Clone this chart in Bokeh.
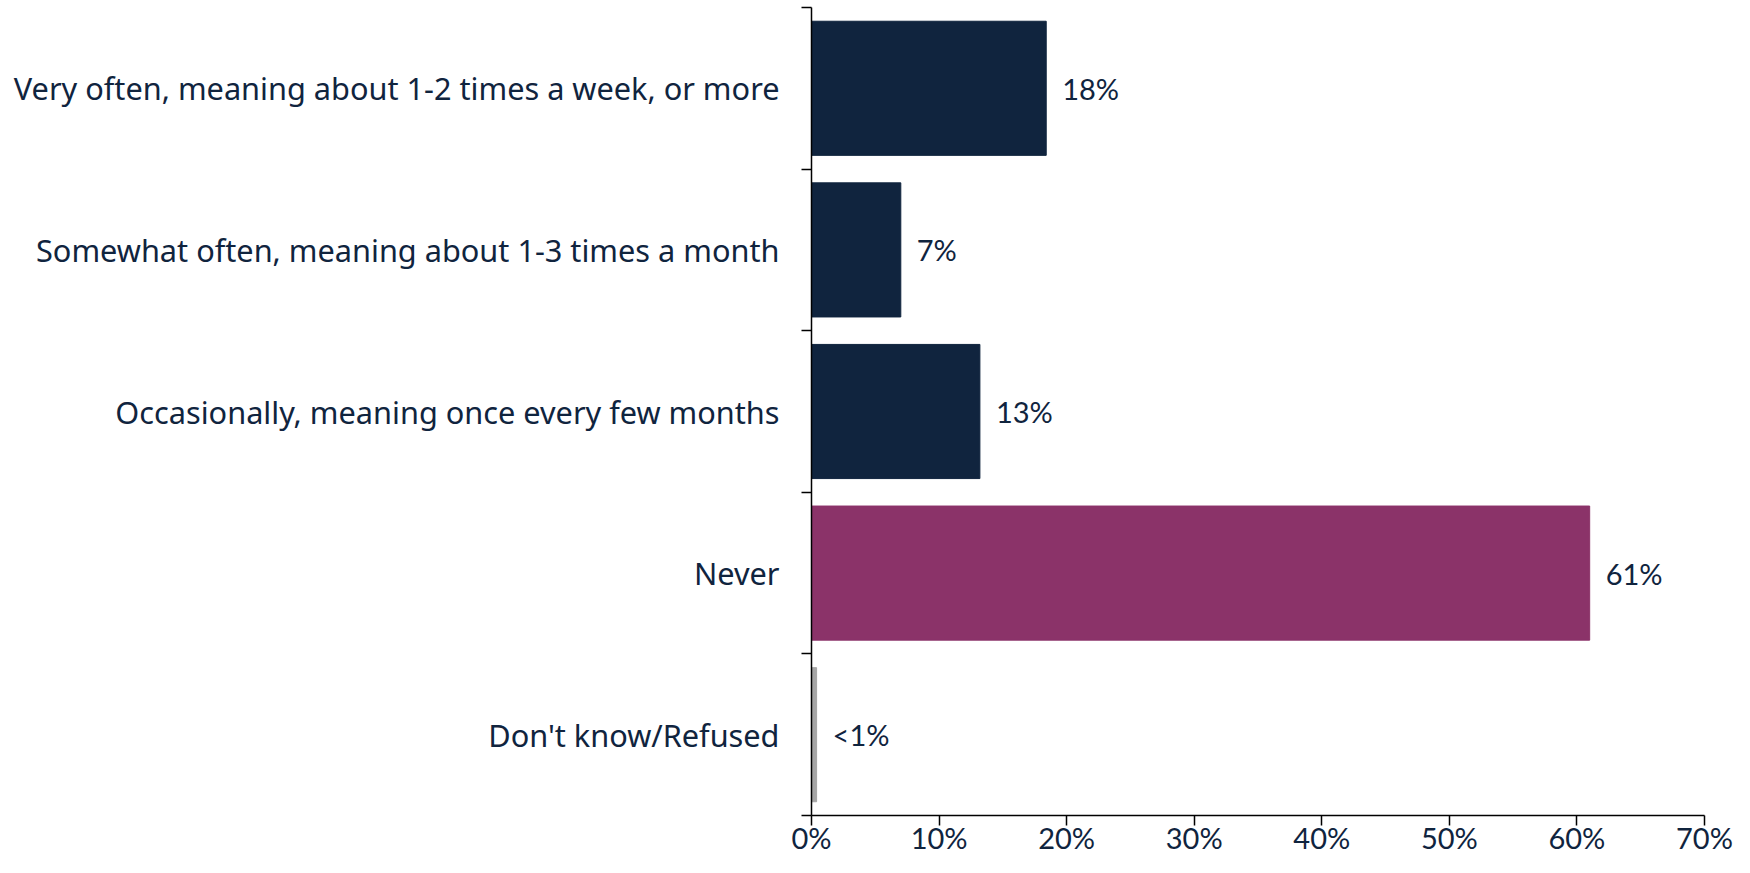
from bokeh.plotting import figure
from bokeh.models import FixedTicker, Range1d, ColumnDataSource
from bokeh.core.properties import value
from bokeh.embed import file_html
from bokeh.resources import INLINE

categories = [
    "Very often, meaning about 1-2 times a week, or more",
    "Somewhat often, meaning about 1-3 times a month",
    "Occasionally, meaning once every few months",
    "Never",
    "Don't know/Refused",
]
values = [18.4, 7.0, 13.2, 61.0, 0.4]
labels = ["18%", "7%", "13%", "61%", "<1%"]
colors = ["#10243E", "#10243E", "#10243E", "#8B3369", "#A6A6A6"]
x_ticks = [0, 10, 20, 30, 40, 50, 60, 70]
x_tick_labels = ["0%", "10%", "20%", "30%", "40%", "50%", "60%", "70%"]

CAT_FONT = "Noto Sans"
CAT_FS = "30.7px"
NUM_FONT = "Lato"
NUM_FS = "29px"
TXT = "#10243E"
n = len(categories)
centers = [n - i - 0.5 for i in range(n)]

src = ColumnDataSource(dict(y=centers, v=values, lab=labels, c=colors, cat=categories))

p = figure(width=1734, height=857, output_backend="svg", toolbar_location=None,
           x_range=Range1d(0, 70), y_range=Range1d(0, n),
           min_border_left=811, min_border_right=30, min_border_top=7, min_border_bottom=40)
p.outline_line_color = None
p.grid.grid_line_color = None
p.background_fill_color = "white"

p.hbar(y="y", left=0, right="v", height=0.83, color="c", source=src)
p.text(x="v", y="y", text="lab", x_offset=16, text_baseline="middle", text_align="left",
       text_font=value(NUM_FONT), text_font_size=NUM_FS, text_color=TXT, source=src)

# x axis
xa = p.xaxis[0]
xa.ticker = FixedTicker(ticks=x_ticks, minor_ticks=[])
xa.major_label_overrides = {t: l for t, l in zip(x_ticks, x_tick_labels)}
xa.major_tick_out = 10
xa.major_tick_in = 0
xa.minor_tick_out = 0
xa.minor_tick_in = 0
xa.axis_line_width = 1.5
xa.major_tick_line_width = 1.5
xa.axis_line_color = "black"
xa.major_tick_line_color = "black"
xa.major_label_text_font = NUM_FONT
xa.major_label_text_font_size = NUM_FS
xa.major_label_text_color = TXT
xa.major_label_standoff = -6

# y axis: labels at category centers, ticks at boundaries
ya = p.yaxis[0]
ya.ticker = FixedTicker(ticks=centers, minor_ticks=[float(i) for i in range(n + 1)])
ya.major_label_overrides = {c: cat for c, cat in zip(centers, categories)}
ya.major_tick_out = 0
ya.major_tick_in = 0
ya.minor_tick_out = 10
ya.minor_tick_in = 0
ya.minor_tick_line_color = "black"
ya.minor_tick_line_width = 1.5
ya.axis_line_width = 1.5
ya.axis_line_color = "black"
ya.major_label_text_font = CAT_FONT
ya.major_label_text_font_size = CAT_FS
ya.major_label_text_color = TXT
ya.major_label_standoff = 22

open("out.html", "w").write(file_html(p, INLINE))
